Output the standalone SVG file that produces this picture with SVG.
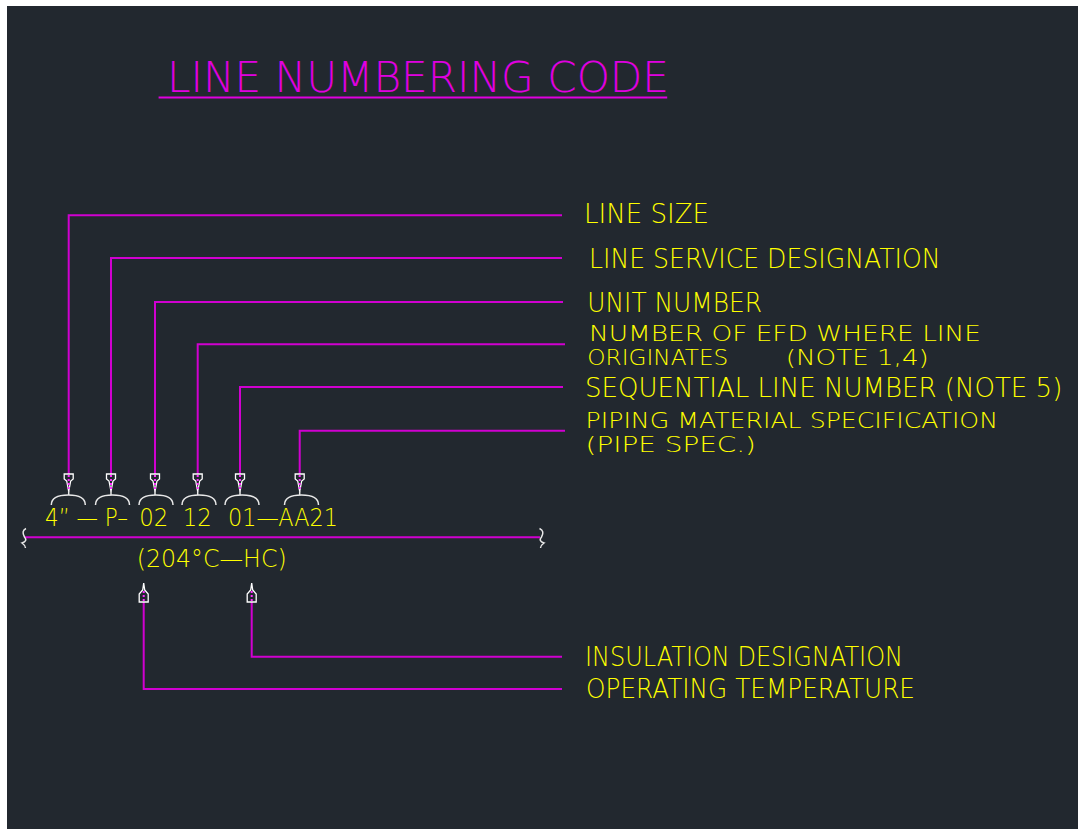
<svg xmlns="http://www.w3.org/2000/svg" width="1078" height="829" viewBox="0 0 1078 829">
<style>
.lbl{font-family:"DejaVu Sans","Liberation Sans",sans-serif;font-weight:200;font-size:26px;fill:#ffff00}
.lbs{font-family:"DejaVu Sans","Liberation Sans",sans-serif;font-weight:200;font-size:22px;fill:#ffff00}
.code{font-family:"DejaVu Sans","Liberation Sans",sans-serif;font-weight:200;font-size:24px;fill:#ffff00}
.title{font-family:"DejaVu Sans","Liberation Sans",sans-serif;font-weight:200;font-size:43px;fill:#e000e0}
.ln{fill:none;stroke:#d000d0;stroke-width:2}
.ah{fill:#22282f;stroke:#ffffff;stroke-width:1.3}
.dot{stroke:#ff30ff;stroke-width:2;stroke-dasharray:2 2}
.wh{fill:none;stroke:#e8e8e8;stroke-width:1.5}
</style>
<defs>
<g id="adown">
<path class="ah" d="M-4.5,474 L4.5,474 L4.5,479 L2,481 L0,491.5 L-2,481 L-4.5,479 Z"/>
<line class="dot" x1="0" y1="475" x2="0" y2="490"/>
<line class="wh" x1="0" y1="491" x2="0" y2="495"/>
</g>
<g id="aup">
<path class="ah" d="M0,583 L1,590 L4.5,594 L4.5,602 L-4.5,602 L-4.5,594 L-1,590 Z"/>
<line class="dot" x1="0" y1="591" x2="0" y2="602"/>
</g>
<path id="arc" class="wh" d="M-17,505 C-17,498 -10,495 0,495 C10,495 17,498 17,505"/>
</defs>
<rect x="0" y="0" width="1078" height="829" fill="#ffffff"/>
<rect x="7" y="6" width="1071" height="823" fill="#22282f"/>

<g id="title">
<text class="title" x="167" y="92" textLength="502" lengthAdjust="spacingAndGlyphs">LINE  NUMBERING  CODE</text>
<line x1="158.6" y1="97.5" x2="667.2" y2="97.5" stroke="#e000e0" stroke-width="2.2"/>
</g>

<g id="connectors">
<path class="ln" d="M68.7,474 V215.3 H562"/>
<path class="ln" d="M111,474 V258 H562"/>
<path class="ln" d="M155,474 V302 H563"/>
<path class="ln" d="M197.7,474 V344.3 H565"/>
<path class="ln" d="M240,474 V387 H563"/>
<path class="ln" d="M299.7,474 V430.7 H565"/>
<path class="ln" d="M143.7,602 V689 H562"/>
<path class="ln" d="M251.7,602 V656.7 H562"/>
<line class="ln" x1="25" y1="537.3" x2="540" y2="537.3"/>
<use href="#adown" x="68.7"/>
<use href="#adown" x="111"/>
<use href="#adown" x="155"/>
<use href="#adown" x="197.7"/>
<use href="#adown" x="240"/>
<use href="#adown" x="299.7"/>
<use href="#aup" x="143.7"/>
<use href="#aup" x="251.7"/>
<path class="wh" d="M539.5,528.5 Q545,531 541.5,537 Q538,541 544,543 Q541,545 540.5,548"/>
<path class="wh" d="M26,528.5 Q21,531 24.5,537 Q28,541 22,543 Q25,545 25.5,548"/>
</g>

<g id="code">
<use href="#arc" x="68.3"/>
<use href="#arc" x="112.5"/>
<use href="#arc" x="156"/>
<use href="#arc" x="199"/>
<use href="#arc" x="242"/>
<use href="#arc" x="301.5"/>
<text class="code" x="45" y="526" textLength="83" lengthAdjust="spacingAndGlyphs">4” — P–</text>
<text class="code" x="139.3" y="526" textLength="29" lengthAdjust="spacingAndGlyphs">02</text>
<text class="code" x="182.7" y="526" textLength="29" lengthAdjust="spacingAndGlyphs">12</text>
<text class="code" x="228" y="526" textLength="110" lengthAdjust="spacingAndGlyphs">01—AA21</text>
<text class="code" x="136.7" y="566.7" textLength="150" lengthAdjust="spacingAndGlyphs">(204°C—HC)</text>
</g>

<g id="n-line-size"><text class="lbl" x="584" y="222.8" textLength="125" lengthAdjust="spacingAndGlyphs">LINE SIZE</text></g>
<g id="n-service"><text class="lbl" x="589" y="268.4" textLength="351.6" lengthAdjust="spacingAndGlyphs">LINE SERVICE DESIGNATION</text></g>
<g id="n-unit"><text class="lbl" x="587.3" y="312.4" textLength="174.7" lengthAdjust="spacingAndGlyphs">UNIT NUMBER</text></g>
<g id="n-efd">
<text class="lbs" x="589" y="340.5" textLength="392" lengthAdjust="spacingAndGlyphs">NUMBER OF EFD WHERE LINE</text>
<text class="lbs" x="587.3" y="364.5" textLength="141" lengthAdjust="spacingAndGlyphs">ORIGINATES</text>
<text class="lbs" x="785.8" y="364.5" textLength="143" lengthAdjust="spacingAndGlyphs">(NOTE 1,4)</text>
</g>
<g id="n-seq"><text class="lbl" x="585" y="397" textLength="477.3" lengthAdjust="spacingAndGlyphs">SEQUENTIAL LINE NUMBER (NOTE 5)</text></g>
<g id="n-spec">
<text class="lbs" x="585.6" y="427.5" textLength="412.4" lengthAdjust="spacingAndGlyphs">PIPING MATERIAL SPECIFICATION</text>
<text class="lbs" x="585.6" y="451.5" textLength="170.4" lengthAdjust="spacingAndGlyphs">(PIPE SPEC.)</text>
</g>
<g id="n-insul"><text class="lbl" x="585" y="666" textLength="318" lengthAdjust="spacingAndGlyphs">INSULATION DESIGNATION</text></g>
<g id="n-optemp"><text class="lbl" x="586" y="698" textLength="329" lengthAdjust="spacingAndGlyphs">OPERATING TEMPERATURE</text></g>
</svg>
